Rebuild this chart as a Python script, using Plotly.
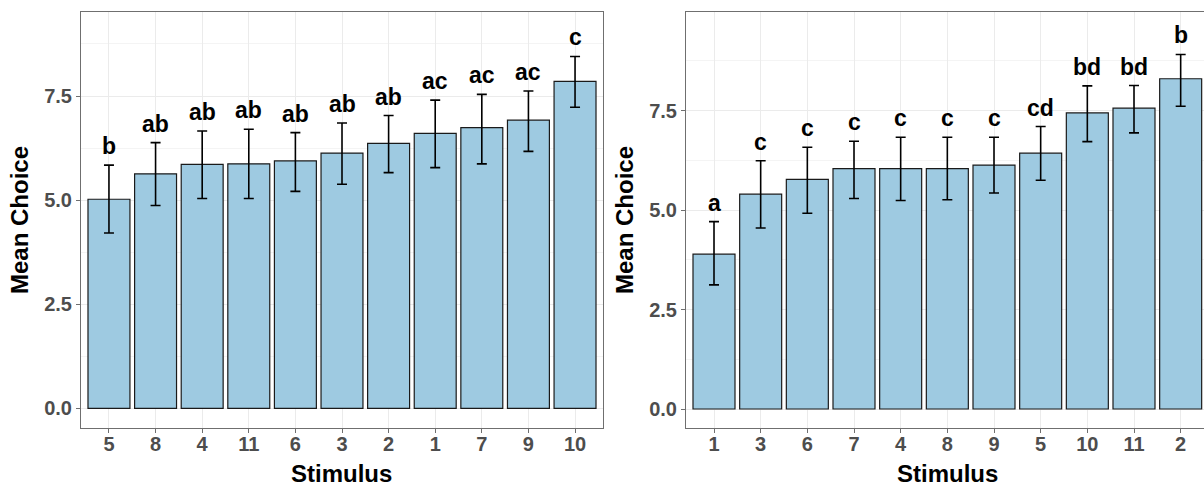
import plotly.graph_objects as go

# ---- Left panel data ----
left_stim = ["5", "8", "4", "11", "6", "3", "2", "1", "7", "9", "10"]
left_mean = [5.02, 5.63, 5.86, 5.87, 5.94, 6.13, 6.36, 6.60, 6.74, 6.92, 7.85]
left_upper = [5.84, 6.38, 6.66, 6.70, 6.62, 6.85, 7.03, 7.40, 7.54, 7.62, 8.45]
left_lower = [4.21, 4.87, 5.04, 5.04, 5.21, 5.38, 5.66, 5.78, 5.87, 6.17, 7.23]
left_letters = ["b", "ab", "ab", "ab", "ab", "ab", "ab", "ac", "ac", "ac", "c"]

# ---- Right panel data ----
right_stim = ["1", "3", "6", "7", "4", "8", "9", "5", "10", "11", "2"]
right_mean = [3.89, 5.40, 5.77, 6.04, 6.04, 6.04, 6.13, 6.43, 7.44, 7.56, 8.30]
right_upper = [4.71, 6.24, 6.58, 6.73, 6.83, 6.83, 6.83, 7.10, 8.12, 8.13, 8.91]
right_lower = [3.12, 4.55, 4.92, 5.29, 5.24, 5.26, 5.43, 5.75, 6.72, 6.94, 7.61]
right_letters = ["a", "c", "c", "c", "c", "c", "c", "cd", "bd", "bd", "b"]

y_ticks = [0.0, 2.5, 5.0, 7.5]
y_ticktext = ["0.0", "2.5", "5.0", "7.5"]

W, H = 1204, 486
FILL = "#9ECAE1"
FONT = "Liberation Sans, Arial, sans-serif"

def px_x(p):
    return p / W

def px_y(p):
    return 1 - p / H

fig = go.Figure()

panels = [
    (left_stim, left_mean, left_upper, left_lower, left_letters, "x", "y"),
    (right_stim, right_mean, right_upper, right_lower, right_letters, "x2", "y2"),
]

for stim, mean, up, lo, letters, xa, ya in panels:
    fig.add_trace(go.Bar(
        x=stim, y=mean, xaxis=xa, yaxis=ya, width=0.9,
        marker=dict(color=FILL, line=dict(color="#1a1a1a", width=1.2)),
        error_y=dict(type="data", symmetric=False,
                     array=[u - m for u, m in zip(up, mean)],
                     arrayminus=[m - l for m, l in zip(mean, lo)],
                     color="black", thickness=1.6, width=5),
        showlegend=False, hoverinfo="skip",
    ))
    for i, (u, t) in enumerate(zip(up, letters)):
        fig.add_annotation(x=i, y=u, xref=xa, yref=ya, text="<b>%s</b>" % t,
                           showarrow=False, yanchor="bottom", yshift=4,
                           font=dict(family=FONT, size=23, color="black"))

axis_common = dict(
    showgrid=True, gridcolor="#EBEBEB", gridwidth=1,
    showline=True, linecolor="#6f6f6f", linewidth=1,
    ticks="outside", ticklen=4, tickcolor="#6f6f6f",
    tickfont=dict(family=FONT, size=20, color="#4D4D4D", weight="bold"),
    zeroline=False,
)

ydom = [px_y(427.7), px_y(12.3)]

fig.update_layout(
    width=W, height=H, margin=dict(l=0, r=0, t=0, b=0),
    plot_bgcolor="white", paper_bgcolor="white", bargap=0.1,
    xaxis=dict(axis_common, domain=[px_x(81), px_x(603)], type="category",
               categoryorder="array", categoryarray=left_stim,
               range=[-0.6, 10.6], mirror=True, anchor="y", ticklabelstandoff=-6),
    yaxis=dict(axis_common, domain=ydom, range=[-0.466, 9.51],
               tickvals=y_ticks, ticktext=y_ticktext, mirror=True, anchor="x",
               minor=dict(dtick=1.25, tick0=0, showgrid=True, gridcolor="#F4F4F4", ticklen=0)),
    xaxis2=dict(axis_common, domain=[px_x(686), 1.0], type="category",
                categoryorder="array", categoryarray=right_stim,
                range=[-0.6, 10.5], mirror=True, anchor="y2", ticklabelstandoff=-6),
    yaxis2=dict(axis_common, domain=ydom, range=[-0.47, 9.97],
                tickvals=y_ticks, ticktext=y_ticktext, mirror=False, anchor="x2",
                minor=dict(dtick=1.25, tick0=0, showgrid=True, gridcolor="#F4F4F4", ticklen=0)),
)

# axis titles as annotations
title_font = dict(family=FONT, size=24, color="black")
for cx, text in [((81 + 603) / 2, "Stimulus"), (947, "Stimulus")]:
    fig.add_annotation(x=px_x(cx), y=px_y(473), xref="paper", yref="paper",
                       text="<b>%s</b>" % text, showarrow=False,
                       xanchor="center", yanchor="middle", font=title_font)
for cx, cy in [(20, 220), (625, 220)]:
    fig.add_annotation(x=px_x(cx), y=px_y(cy), xref="paper", yref="paper",
                       text="<b>Mean Choice</b>", showarrow=False, textangle=-90,
                       xanchor="center", yanchor="middle", font=title_font)

fig.write_html("out.html")
